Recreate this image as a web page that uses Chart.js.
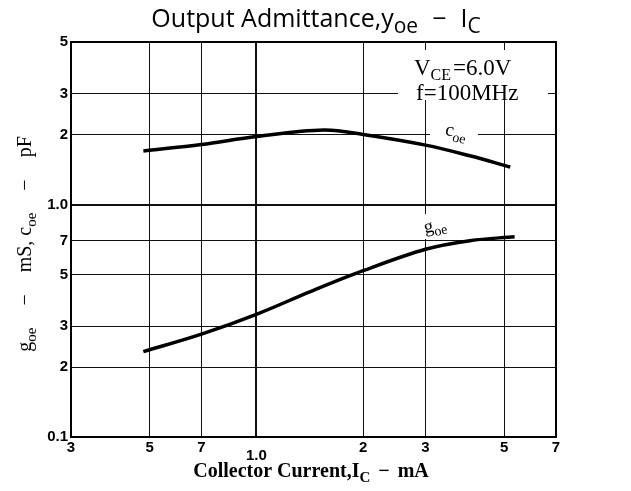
<!DOCTYPE html>
<html><head><meta charset="utf-8">
<script src="https://cdn.jsdelivr.net/npm/chart.js@4.4.0/dist/chart.umd.min.js"></script>
<style>html,body{margin:0;padding:0;background:#fff}#wrap{width:631px;height:491px}</style>
</head><body><div id="wrap"><canvas id="c" width="631" height="491"></canvas></div>
<script>
const xTickValues=[0.3,0.5,0.7,1,2,3,5,7];
const xTickLabels=['3','5','7','1.0','2','3','5','7'];
const yTickValues=[0.1,0.2,0.3,0.5,0.7,1,2,3,5];
const yTickLabels=['0.1','2','3','5','7','1.0','2','3','5'];
const coeCurrent=[0.48,0.7,1.0,1.55,2.0,3.0,4.0,5.2];
const coeValues=[1.70,1.81,1.96,2.09,2.0,1.80,1.62,1.45];
const goeCurrent=[0.48,0.7,1.0,1.42,2.0,3.0,4.0,5.35];
const goeValues=[0.233,0.277,0.337,0.422,0.519,0.642,0.699,0.727];

const SERIF='"Liberation Serif", "DejaVu Serif", serif';
const SANS='"Open Sans", "Liberation Sans", sans-serif';

function rich(ctx,parts,x,y,size,family,weight,align,subScale,subDrop){
  subScale=subScale||0.72; subDrop=subDrop||0.28;
  const fMain=(weight||'normal')+' '+size+'px '+family;
  const fSub=(weight||'normal')+' '+Math.round(size*subScale)+'px '+family;
  let w=0;
  parts.forEach(p=>{ if(p.g){w+=p.g;return;} ctx.font=p.s?fSub:fMain; w+=ctx.measureText(p.t).width;});
  let cx = align==='center'? x-w/2 : x;
  ctx.textAlign='left'; ctx.textBaseline='alphabetic';
  parts.forEach(p=>{ if(p.g){cx+=p.g;return;} ctx.font=p.s?fSub:fMain; ctx.fillText(p.t,cx,p.s?y+size*subDrop:y); cx+=ctx.measureText(p.t).width;});
}

const textPlugin={
  id:'texts',
  beforeDatasetsDraw(chart){
    const ctx=chart.ctx; ctx.save(); ctx.fillStyle='#fff';
    ctx.fillRect(398,50,150,50);
    ctx.fillRect(430,119,48,22);
    ctx.fillRect(410,214,42,25);
    ctx.restore();
  },
  afterDraw(chart){
    const ctx=chart.ctx, a=chart.chartArea;
    ctx.save();
    ctx.strokeStyle='#000'; ctx.lineWidth=2;
    ctx.beginPath(); ctx.moveTo(a.left,a.top); ctx.lineTo(a.right,a.top); ctx.lineTo(a.right,a.bottom); ctx.stroke();
    ctx.fillStyle='#000';
    rich(ctx,[{t:'Output Admittance,y'},{t:'oe',s:1},{g:14},{t:'\u2212'},{g:14},{t:'I'},{t:'C',s:1}],316,27,25,SANS,'normal','center',0.85,0.22);
    rich(ctx,[{t:'Collector Current,I'},{t:'C',s:1},{g:8},{t:'\u2212'},{g:8},{t:'mA'}],311,477,20,SERIF,'bold','center',0.75,0.25);
    rich(ctx,[{t:'V'},{t:'CE',s:1},{g:2},{t:'=6.0V'}],414,75,23,SERIF,'normal','left',0.68,0.22);
    rich(ctx,[{t:'f=100MHz'}],416,100,23,SERIF,'normal','left');
    ctx.save(); ctx.translate(31,244); ctx.rotate(-Math.PI/2);
    rich(ctx,[{t:'g'},{t:'oe',s:1},{g:22},{t:'\u2212'},{g:22},{t:'mS, c'},{t:'oe',s:1},{g:22},{t:'\u2212'},{g:22},{t:'pF'}],0,0,20,SERIF,'normal','center',0.75,0.25);
    ctx.restore();
    ctx.save(); ctx.translate(455,137); ctx.rotate(12*Math.PI/180);
    rich(ctx,[{t:'c'},{t:'oe',s:1}],0,0,19,SERIF,'normal','center',0.75,0.25);
    ctx.restore();
    ctx.save(); ctx.translate(436,231); ctx.rotate(-12*Math.PI/180);
    rich(ctx,[{t:'g'},{t:'oe',s:1}],0,0,19,SERIF,'normal','center',0.75,0.25);
    ctx.restore();
    ctx.restore();
  }
};

new Chart(document.getElementById('c'),{
  type:'line',
  data:{datasets:[
    {label:'coe',data:coeCurrent.map((x,i)=>({x,y:coeValues[i]})),borderColor:'#000',borderWidth:3.5,pointRadius:0,tension:0.35,fill:false},
    {label:'goe',data:goeCurrent.map((x,i)=>({x,y:goeValues[i]})),borderColor:'#000',borderWidth:3.5,pointRadius:0,tension:0.35,fill:false}
  ]},
  options:{
    responsive:false,animation:false,devicePixelRatio:1,
    layout:{padding:{top:42,right:75,left:0,bottom:0}},
    plugins:{legend:{display:false},tooltip:{enabled:false},title:{display:false}},
    scales:{
      x:{type:'logarithmic',min:0.3,max:7,
        afterBuildTicks:s=>{s.ticks=xTickValues.map(v=>({value:v}));},
        afterFit:s=>{s.height=54;},
        ticks:{autoSkip:false,maxRotation:0,minRotation:0,padding:2,color:'#000',
          font:c=>({family:'"Liberation Sans", sans-serif',weight:'bold',size:15,lineHeight:(c.index===3?0.74:1.2)}),
          callback:(v,i)=>i===3?['',xTickLabels[i]]:xTickLabels[i]},
        grid:{color:'#111',lineWidth:c=>c.tick&&c.tick.value===1?2:1,drawTicks:false},
        border:{color:'#000',width:2}
      },
      y:{type:'logarithmic',min:0.1,max:5,
        afterBuildTicks:s=>{s.ticks=yTickValues.map(v=>({value:v}));},
        afterFit:s=>{s.width=71;},
        ticks:{autoSkip:false,padding:3,color:'#000',
          font:{family:'"Liberation Sans", sans-serif',weight:'bold',size:15},
          callback:(v,i)=>yTickLabels[i]},
        grid:{color:'#111',lineWidth:c=>c.tick&&c.tick.value===1?2:1,drawTicks:false},
        border:{color:'#000',width:2}
      }
    }
  },
  plugins:[textPlugin]
});
</script></body></html>
